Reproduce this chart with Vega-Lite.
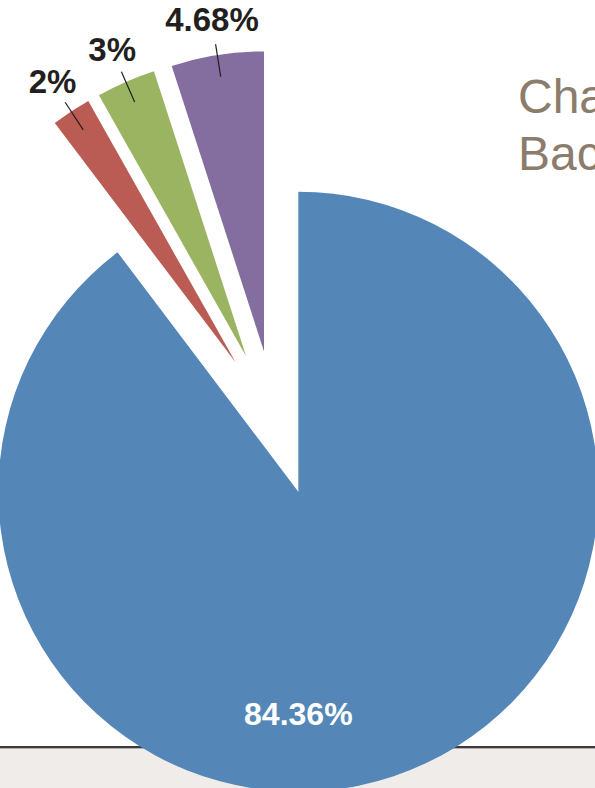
{
  "$schema": "https://vega.github.io/schema/vega-lite/v6.json",
  "width": 595,
  "height": 788,
  "autosize": {"type": "none"},
  "padding": 0,
  "background": "#ffffff",
  "title": {
    "text": ["Cha", "Bac"],
    "anchor": "start",
    "frame": "group",
    "orient": "top",
    "align": "left",
    "baseline": "alphabetic",
    "offset": 0,
    "dx": 518,
    "dy": 218,
    "fontSize": 48,
    "font": "Liberation Sans",
    "fontWeight": "normal",
    "color": "#8b7c6b",
    "lineHeight": 57
  },
  "config": {
    "view": {
      "stroke": null,
      "fill": {
        "gradient": "linear",
        "x1": 0, "y1": 0, "x2": 0, "y2": 1,
        "stops": [
          {"offset": 0, "color": "#ffffff"},
          {"offset": 0.9473, "color": "#ffffff"},
          {"offset": 0.9473, "color": "#3c3c3c"},
          {"offset": 0.9492, "color": "#3c3c3c"},
          {"offset": 0.9492, "color": "#b3afac"},
          {"offset": 0.9505, "color": "#b3afac"},
          {"offset": 0.9505, "color": "#f0ecea"},
          {"offset": 1, "color": "#f0ecea"}
        ]
      }
    }
  },
  "data": {
    "values": [
      {"slice": "Slice 1", "value": 84.36},
      {"slice": "Slice 2", "value": 2},
      {"slice": "Slice 3", "value": 3},
      {"slice": "Slice 4", "value": 4.68}
    ]
  },
  "transform": [
    {"window": [{"op": "sum", "field": "value", "as": "cum"}], "frame": [null, 0]},
    {"joinaggregate": [{"op": "sum", "field": "value", "as": "total"}]},
    {"calculate": "2*PI*(datum.cum-datum.value)/datum.total", "as": "t0"},
    {"calculate": "2*PI*datum.cum/datum.total", "as": "t1"},
    {"calculate": "(datum.t0+datum.t1)/2", "as": "tm"},
    {"calculate": "72.5*sin(datum.tm)", "as": "ex"},
    {"calculate": "72.5*cos(datum.tm)", "as": "ey"},
    {"calculate": "datum.ex+278*sin(datum.tm)", "as": "ax"},
    {"calculate": "datum.ey+278*cos(datum.tm)", "as": "ay"},
    {"calculate": "datum.ex+311*sin(datum.tm)", "as": "bx"},
    {"calculate": "datum.ey+311*cos(datum.tm)", "as": "by"},
    {"calculate": "datum.ex+334*sin(datum.tm)", "as": "tx"},
    {"calculate": "datum.ey+334*cos(datum.tm)", "as": "ty"},
    {"calculate": "datum.ey-223", "as": "iy"},
    {"calculate": "datum.value+'%'", "as": "label"}
  ],
  "layer": [
    {
      "mark": {"type": "arc", "radius": 300},
      "encoding": {
        "theta": {"field": "t0", "type": "quantitative", "scale": null, "stack": null},
        "theta2": {"field": "t1"},
        "x": {"field": "ex", "type": "quantitative", "stack": null, "axis": null,
              "scale": {"domain": [-275.3, 319.7], "nice": false, "zero": false}},
        "y": {"field": "ey", "type": "quantitative", "stack": null, "axis": null,
              "scale": {"domain": [-365, 423], "nice": false, "zero": false}},
        "color": {"field": "slice", "type": "nominal", "legend": null,
                  "scale": {"domain": ["Slice 1", "Slice 2", "Slice 3", "Slice 4"],
                            "range": ["#5487b8", "#ba5b54", "#9bb462", "#846e9f"]}}
      }
    },
    {
      "transform": [{"filter": "datum.value < 50"}],
      "mark": {"type": "rule", "color": "#231f20", "strokeWidth": 1.2},
      "encoding": {
        "x": {"field": "ax", "type": "quantitative", "stack": null},
        "y": {"field": "ay", "type": "quantitative", "stack": null},
        "x2": {"field": "bx"},
        "y2": {"field": "by"}
      }
    },
    {
      "transform": [{"filter": "datum.value < 50"}],
      "mark": {"type": "text", "font": "Liberation Sans", "fontSize": 33, "fontWeight": "bold",
               "color": "#231f20", "align": "center", "baseline": "middle"},
      "encoding": {
        "x": {"field": "tx", "type": "quantitative", "stack": null},
        "y": {"field": "ty", "type": "quantitative", "stack": null},
        "text": {"field": "label", "type": "nominal"}
      }
    },
    {
      "transform": [{"filter": "datum.value >= 50"}],
      "mark": {"type": "text", "font": "Liberation Sans", "fontSize": 32, "fontWeight": "bold",
               "color": "#ffffff", "align": "center", "baseline": "middle"},
      "encoding": {
        "x": {"field": "ex", "type": "quantitative", "stack": null},
        "y": {"field": "iy", "type": "quantitative", "stack": null},
        "text": {"field": "label", "type": "nominal"}
      }
    }
  ]
}
